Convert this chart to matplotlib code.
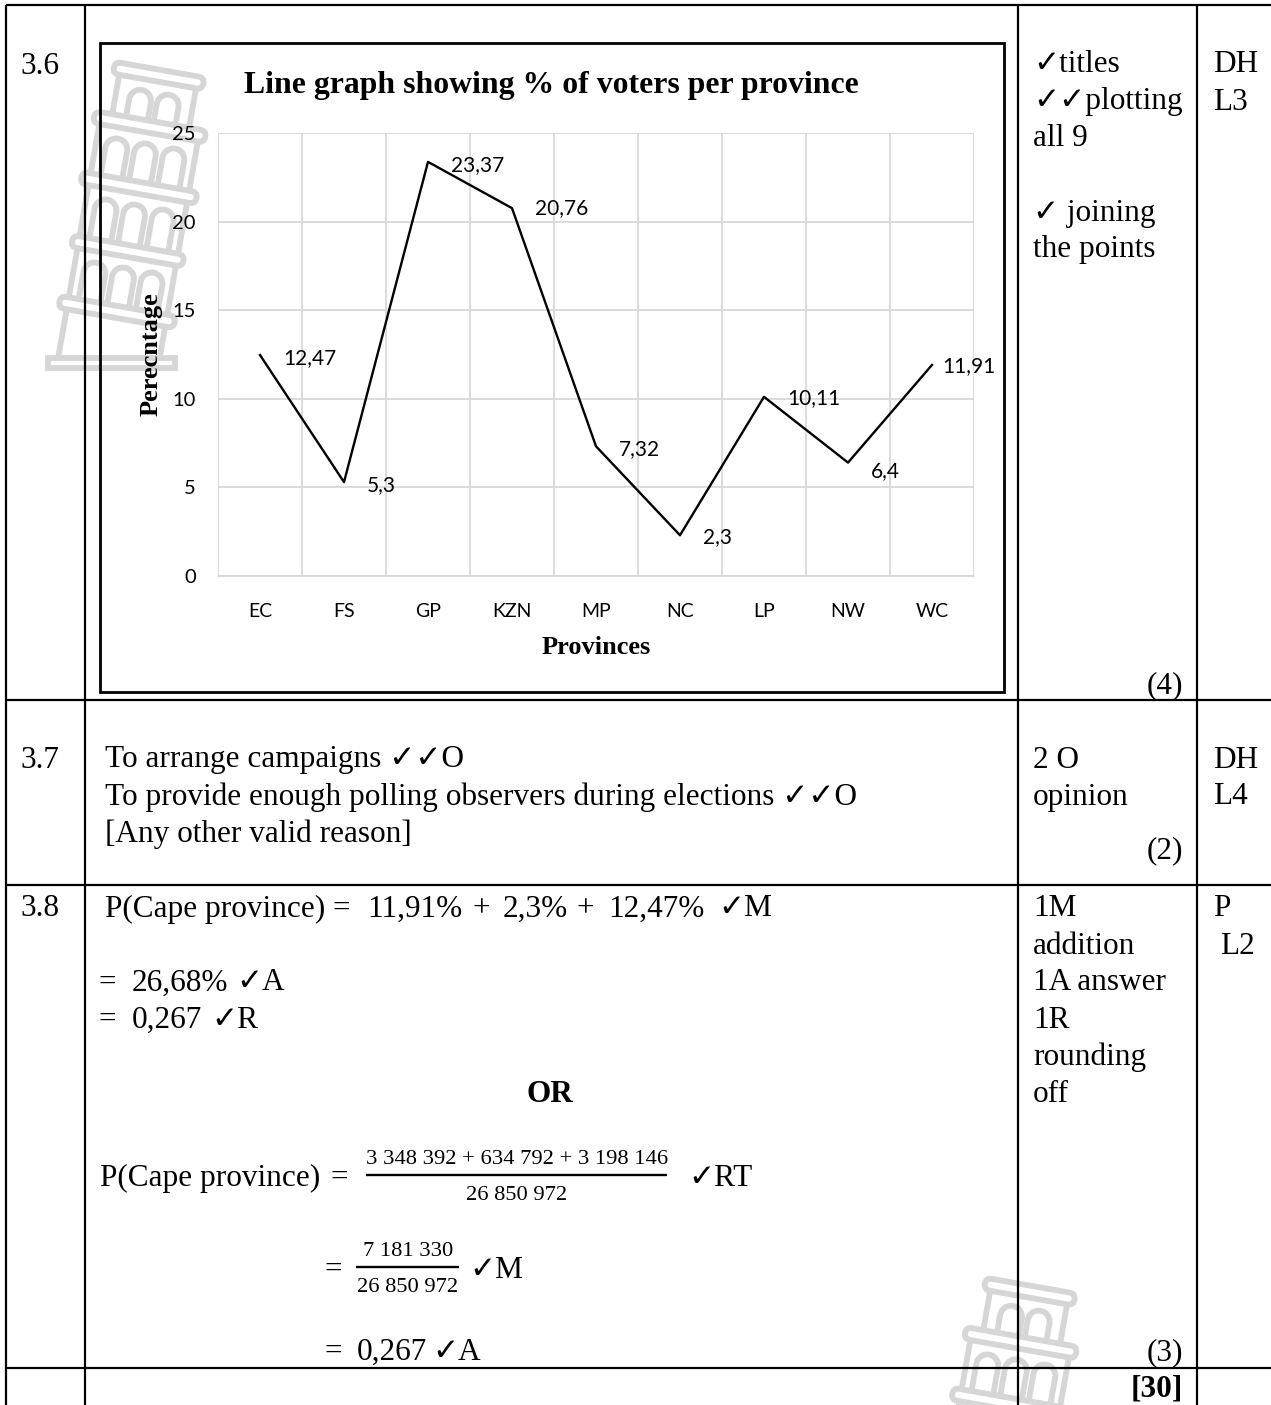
import matplotlib
matplotlib.use('Agg')
import numpy as np
import matplotlib.pyplot as plt
from matplotlib.patches import FancyBboxPatch, Rectangle
from matplotlib.transforms import Affine2D

W, H = 1271, 1405
SERIF = ['Liberation Serif', 'DejaVu Sans']
GREY = '#d6d6d6'
FS = 22.5

provinces = ['EC', 'FS', 'GP', 'KZN', 'MP', 'NC', 'LP', 'NW', 'WC']
percent = [12.47, 5.3, 23.37, 20.76, 7.32, 2.3, 10.11, 6.4, 11.91]
point_labels = ['12,47', '5,3', '23,37', '20,76', '7,32', '2,3', '10,11', '6,4', '11,91']
y_ticks = [0, 5, 10, 15, 20, 25]

# text in the table: x, y, string, bold
table_text = [
    (20, 63, '3.6', False),
    (20, 757, '3.7', False),
    (20, 906, '3.8', False),
    (1033, 62, '✓titles', False),
    (1033, 99, '✓✓plotting', False),
    (1033, 135, 'all 9', False),
    (1033, 210, '✓ joining', False),
    (1033, 247, 'the points', False),
    (1213, 62, 'DH', False),
    (1213, 99, 'L3', False),
    (105, 757, 'To arrange campaigns ✓✓O', False),
    (105, 794, 'To provide enough polling observers during elections ✓✓O', False),
    (105, 831, '[Any other valid reason]', False),
    (1033, 757, '2 O', False),
    (1033, 794, 'opinion', False),
    (1213, 757, 'DH', False),
    (1213, 794, 'L4', False),
    # the equation lines have wider math spacing, so they go piece by piece
    (105, 906, 'P(Cape province)', False),
    (333, 906, '=', False),
    (367, 906, '11,91%', False),
    (472, 906, '+', False),
    (503, 906, '2,3%', False),
    (577, 906, '+', False),
    (608, 906, '12,47%', False),
    (718, 906, '✓M', False),
    (99, 980, '=', False),
    (132, 980, '26,68%', False),
    (236, 980, '✓A', False),
    (99, 1017, '=', False),
    (132, 1017, '0,267', False),
    (211, 1017, '✓R', False),
    (527, 1091, 'OR', True),
    (100, 1175, 'P(Cape province)', False),
    (331, 1175, '=', False),
    (688, 1175, '✓RT', False),
    (325, 1267, '=', False),
    (469, 1267, '✓M', False),
    (325, 1349, '=', False),
    (357, 1349, '0,267', False),
    (432, 1349, '✓A', False),
    (1033, 906, '1M', False),
    (1033, 943, 'addition', False),
    (1033, 980, '1A answer', False),
    (1033, 1017, '1R', False),
    (1033, 1054, 'rounding', False),
    (1033, 1091, 'off', False),
    (1213, 906, 'P', False),
    (1220, 943, 'L2', False),
]
right_marks = [(1183, 683, '(4)', False), (1183, 848, '(2)', False),
               (1183, 1350, '(3)', False), (1183, 1386, '[30]', True)]

fractions = [
    (517, 1158, 1193, 1175, '3 348 392 + 634 792 + 3 198 146', '26 850 972', 366, 667),
    (408, 1250, 1285, 1267, '7 181 330', '26 850 972', 356, 459),
]


def tower(ax, x0, y0):
    # leaning tower watermark, origin on the axis at the lowest ring
    tr = Affine2D().rotate_deg(10).translate(x0, y0) + ax.transData
    lw = 4.2
    rings = [-240, -188, -126, -62, 0]
    half = [48, 59, 61, 59, 61]
    walls = [39, 50, 50, 50]

    line = dict(color=GREY, lw=lw, transform=tr, zorder=1, solid_capstyle='butt')
    for i in range(4):
        a, b = rings[i], rings[i + 1]
        ax.plot([-walls[i], -walls[i]], [a, b], **line)
        ax.plot([walls[i], walls[i]], [a, b], **line)
        centres = [-14, 14] if i == 0 else [-29, 0, 29]
        for c in centres:
            t = np.linspace(np.pi, 0, 24)
            xs = np.r_[c - 11, c + 11 * np.cos(t), c + 11]
            ys = np.r_[b - 5, a + 28 - 11 * np.sin(t), b - 5]
            ax.plot(xs, ys, **line)
    ax.plot([-50, -50], [0, 54], **line)
    ax.plot([50, 50], [0, 35], **line)

    for y, h in zip(rings, half):
        ax.add_patch(FancyBboxPatch((-h + 2.5, y - 6), 2 * h - 5, 12,
                                    boxstyle='round,pad=0,rounding_size=6',
                                    fc='white', ec=GREY, lw=lw, transform=tr, zorder=1.5))
    base = Affine2D().translate(x0, y0) + ax.transData
    ax.add_patch(Rectangle((-69.5, 45.5), 127, 10, fc='white', ec=GREY, lw=lw,
                           transform=base, zorder=1.5))


fig = plt.figure(figsize=(W / 100, H / 100), dpi=100, facecolor='white')
page = fig.add_axes([0, 0, 1, 1])
page.set_xlim(0, W)
page.set_ylim(H, 0)
page.axis('off')

tower(page, 117, 312)
tower(page, 988, 1528)

# table rules
for x in [6, 85, 1017.5, 1196.5]:
    page.plot([x, x], [5, H], color='black', lw=1.6, zorder=3, solid_capstyle='butt')
for y in [5, 700, 884.5, 1368]:
    page.plot([6, W], [y, y], color='black', lw=1.6, zorder=3, solid_capstyle='butt')

# chart frame
page.add_patch(Rectangle((99.5, 42.5), 904, 649, fill=False, ec='black', lw=2, zorder=3))

for x, y, s, bold in table_text:
    page.text(x, y + 3, s, family=SERIF, fontsize=FS, weight='bold' if bold else 'normal',
              va='center', ha='left', zorder=4)
for x, y, s, bold in right_marks:
    page.text(x, y + 3, s, family=SERIF, fontsize=FS, weight='bold' if bold else 'normal',
              va='center', ha='right', zorder=4)

for xc, ytop, ybot, yline, num, den, x0, x1 in fractions:
    page.plot([x0, x1], [yline, yline], color='black', lw=1.7, zorder=4, solid_capstyle='butt')
    page.text(xc, ytop + 2, num, family=SERIF, fontsize=16.2, ha='center', va='center', zorder=4)
    page.text(xc, ybot + 2, den, family=SERIF, fontsize=16.2, ha='center', va='center', zorder=4)

page.text(551.5, 86, 'Line graph showing % of voters per province', family=SERIF, fontsize=22.9,
          weight='bold', ha='center', va='center', zorder=4)
page.text(151, 354, 'Perecntage', family=SERIF, fontsize=19, weight='bold', rotation=90,
          ha='center', va='center', zorder=4)
page.text(596, 647, 'Provinces', family=SERIF, fontsize=19, weight='bold', ha='center',
          va='center', zorder=4)

# line chart, plot area 218..974 x 133..576 px
ax = fig.add_axes([218 / W, 1 - 576 / H, 756 / W, 443 / H])
ax.patch.set_alpha(0)
ax.set_xlim(-0.5, 8.5)
ax.set_ylim(0, 25)
ax.set_yticks(y_ticks)
ax.set_xticks([i + 0.5 for i in range(-1, 9)], minor=False)
ax.set_xticklabels([])
ax.grid(True, color=GREY, lw=1.2)
ax.set_axisbelow(True)
ax.tick_params(length=0)
ax.set_yticklabels([str(t) for t in y_ticks], family='Lato', fontsize=14.5)
ax.tick_params(axis='y', pad=16)
for sp in ax.spines.values():
    sp.set_visible(False)
ax.spines['bottom'].set_visible(True)
ax.spines['bottom'].set_color(GREY)
ax.spines['bottom'].set_linewidth(1.2)
ax.plot(range(len(percent)), percent, color='black', lw=1.7, clip_on=False)
for i, p in enumerate(provinces):
    ax.annotate(p, (i, 0), xytext=(0, -35), textcoords='offset pixels', family='Lato',
                fontsize=14, ha='center', va='center', annotation_clip=False)
# label offsets in pixels from each point
dx = [23, 23, 23, 23, 23, 23, 23, 23, 10]
dy = [-3, -3, -3, 0, -3, -2, -1, -9, -1]
for i, s in enumerate(point_labels):
    ax.annotate(s, (i, percent[i]), xytext=(dx[i], dy[i]), textcoords='offset pixels',
                family='Lato', fontsize=15, ha='left', va='center', annotation_clip=False)

fig.savefig('out.png', dpi=100)
